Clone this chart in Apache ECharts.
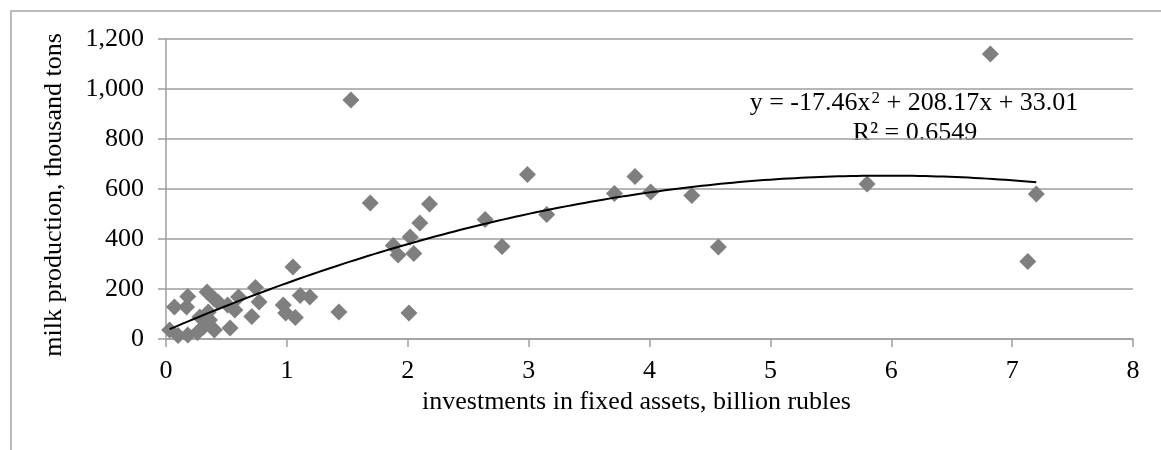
<!DOCTYPE html>
<html>
<head>
<meta charset="utf-8">
<script src="https://cdn.jsdelivr.net/npm/echarts@6/dist/echarts.min.js"></script>
<style>html,body{margin:0;padding:0;background:#fff}#c{width:1161px;height:450px}</style>
</head>
<body>
<div id="c"></div>
<script>
// investments in fixed assets, billion rubles
const investments = [
  0.03, 0.07, 0.10, 0.17, 0.18, 0.18, 0.26, 0.28, 0.31, 0.34, 0.35, 0.36, 0.40, 0.40, 0.43,
  0.51, 0.53, 0.57, 0.60, 0.71, 0.74, 0.77, 0.97, 0.99, 1.05, 1.07, 1.11, 1.19, 1.43,
  1.53, 1.69, 1.88, 1.92, 2.01, 2.02, 2.05, 2.10, 2.18, 2.64, 2.78, 2.99, 3.15, 3.71,
  3.88, 4.01, 4.35, 4.57, 5.80, 6.82, 7.13, 7.20
];
// milk production, thousand tons
const milk = [
  36, 128, 14, 128, 170, 16, 26, 88, 48, 188, 108, 76, 36, 160, 148,
  136, 44, 116, 168, 90, 206, 148, 136, 104, 288, 86, 174, 168, 108,
  956, 544, 374, 336, 104, 408, 342, 464, 540, 478, 370, 658, 498, 582,
  650, 588, 574, 368, 620, 1140, 310, 580
];
// polynomial trend line coefficients (a, b, c): y = a x^2 + b x + c
const trendCoef = [-17.46, 208.17, 33.01];
const trendLabel = ['y = -17.46x', '2', ' + 208.17x + 33.01'];
const r2Label = 'R² = 0.6549';
const xAxisTitle = 'investments in fixed assets, billion rubles';
const yAxisTitle = 'milk production, thousand tons';

const points = investments.map((x, i) => [x, milk[i]]);
const xMin = Math.min(...investments), xMax = Math.max(...investments);
const trend = [];
for (let k = 0; k <= 140; k++) {
  const x = xMin + (xMax - xMin) * k / 140;
  trend.push([x, trendCoef[0] * x * x + trendCoef[1] * x + trendCoef[2]]);
}

const FONT = 'Liberation Serif';
const FS = 26;
const chart = echarts.init(document.getElementById('c'), null, {renderer: 'canvas'});
chart.setOption({
  animation: false,
  backgroundColor: '#fff',
  grid: {left: 166, right: 28, top: 39, bottom: 111, containLabel: false},
  xAxis: {
    type: 'value', min: 0, max: 8, interval: 1,
    name: xAxisTitle, nameLocation: 'middle', nameGap: 47,
    nameTextStyle: {fontFamily: FONT, fontSize: FS, color: '#000', padding: [0, 26, 0, 0]},
    axisLine: {show: true, lineStyle: {color: '#9e9e9e', width: 1.5}},
    axisTick: {show: true, inside: false, length: 8, lineStyle: {color: '#9e9e9e', width: 1.5}},
    axisLabel: {fontFamily: FONT, fontSize: FS, color: '#000', margin: 19},
    splitLine: {show: false}
  },
  yAxis: {
    type: 'value', min: 0, max: 1200, interval: 200,
    axisLine: {show: true, lineStyle: {color: '#9e9e9e', width: 1.5}},
    axisTick: {show: true, length: 8, lineStyle: {color: '#9e9e9e', width: 1.5}},
    axisLabel: {fontFamily: FONT, fontSize: FS, color: '#000', margin: 22,
      formatter: v => v.toLocaleString('en-US')},
    splitLine: {show: true, lineStyle: {color: '#9e9e9e', width: 1.5}}
  },
  series: [
    {
      type: 'scatter', data: points, symbol: 'diamond', symbolSize: 17,
      itemStyle: {color: '#7f7f7f', opacity: 1}, z: 2
    },
    {
      type: 'line', data: trend, showSymbol: false, smooth: false,
      lineStyle: {color: '#000', width: 2}, z: 3, silent: true
    }
  ],
  graphic: [
    {type: 'rect', shape: {x: 11, y: 11, width: 1300, height: 600},
      style: {fill: 'none', stroke: '#a6a6a6', lineWidth: 1.5}, silent: true, z: -1},
    {type: 'text', x: 54, y: 195, rotation: Math.PI / 2,
      style: {text: yAxisTitle, font: FS + 'px "' + FONT + '"', fill: '#000',
        textAlign: 'center', textVerticalAlign: 'middle'}},
    {type: 'text', x: 914, y: 103,
      style: {
        text: '{a|' + trendLabel[0] + '}{s|' + trendLabel[1] + '}{a|' + trendLabel[2] + '}',
        rich: {
          a: {fontFamily: FONT, fontSize: FS, fill: '#000', color: '#000'},
          s: {fontFamily: FONT, fontSize: 17, fill: '#000', color: '#000', verticalAlign: 'top', padding: [0, 0, 0, 1]}
        },
        textAlign: 'center', textVerticalAlign: 'middle'
      }},
    {type: 'text', x: 915, y: 133,
      style: {text: r2Label, font: FS + 'px "' + FONT + '"', fill: '#000',
        textAlign: 'center', textVerticalAlign: 'middle'}}
  ]
});
</script>
</body>
</html>
